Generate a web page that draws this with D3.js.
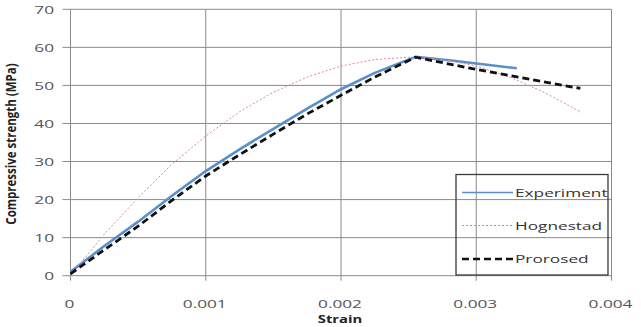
<!DOCTYPE html>
<html>
<head>
<meta charset="utf-8">
<script src="https://cdn.jsdelivr.net/npm/d3@7"></script>
<style>
  body { margin: 0; background: #fff; }
  svg { display: block; }
  text { font-family: "Open Sans", "Liberation Sans", sans-serif; }
</style>
</head>
<body>
<svg id="chart" width="641" height="327"></svg>
<script>
// ---- data ----
const xTicks = [0, 0.001, 0.002, 0.003, 0.004];
const xTickLabels = ["0", "0.001", "0.002", "0.003", "0.004"];
const yTicks = [0, 10, 20, 30, 40, 50, 60, 70];
const seriesNames = ["Experiment", "Hognestad", "Prorosed"];

const experimentStrain = [0, 0.00025, 0.0005, 0.00075, 0.001, 0.00125, 0.0015, 0.00175, 0.002, 0.00225, 0.00255, 0.0028, 0.0033];
const experimentStress = [1.0, 7.8, 14.2, 21.0, 27.5, 33.2, 38.6, 43.9, 49.0, 53.3, 57.5, 56.6, 54.5];

const hognestadStrain = [0, 0.00025, 0.0005, 0.00075, 0.001, 0.00125, 0.0015, 0.00175, 0.002, 0.00225, 0.0025, 0.00275, 0.003, 0.00325, 0.0035, 0.00378];
const hognestadStress = [0, 10.9, 20.5, 29.3, 36.7, 43.1, 48.2, 52.2, 55.1, 56.8, 57.4, 56.8, 55.1, 52.2, 48.2, 42.9];

const proposedStrain = [0, 0.00025, 0.0005, 0.00075, 0.001, 0.00125, 0.0015, 0.00175, 0.002, 0.00225, 0.00255, 0.003, 0.00377];
const proposedStress = [0.5, 6.8, 13.0, 19.8, 26.2, 31.8, 37.2, 42.5, 47.4, 52.2, 57.4, 54.2, 49.2];

// ---- layout ----
const svg = d3.select("#chart");
const x = d3.scaleLinear().domain([0, 0.004]).range([70.5, 611.5]);
const y = d3.scaleLinear().domain([0, 70]).range([275.7, 9.3]);
const SX = 1.5; // horizontal stretch of the reference text
const gridColor = "#8a8a8a";

// gridlines
const g = svg.append("g");
g.selectAll("line.h").data(yTicks).join("line")
  .attr("x1", x(0) - 8).attr("x2", x(0.004))
  .attr("y1", d => y(d)).attr("y2", d => y(d))
  .attr("stroke", gridColor).attr("stroke-width", 1);
g.selectAll("line.v").data(xTicks).join("line")
  .attr("x1", d => x(d)).attr("x2", d => x(d))
  .attr("y1", y(70)).attr("y2", y(0) + 5)
  .attr("stroke", gridColor).attr("stroke-width", 1);

// y tick labels
svg.append("g").selectAll("text").data(yTicks).join("text")
  .attr("transform", d => `translate(54,${y(d) + 4.5}) scale(${SX},1)`)
  .attr("text-anchor", "end")
  .attr("font-size", 11.5)
  .attr("fill", "#555")
  .text(d => d);

// x tick labels
svg.append("g").selectAll("text").data(xTicks).join("text")
  .attr("transform", d => `translate(${x(d) - 1},307.5) scale(${SX},1)`)
  .attr("text-anchor", "middle")
  .attr("font-size", 11.5)
  .attr("fill", "#555")
  .text((d, i) => xTickLabels[i]);

// axis titles
svg.append("text")
  .attr("transform", `translate(340,323.3) scale(1.35,1)`)
  .attr("text-anchor", "middle")
  .attr("font-size", 11).attr("font-weight", "bold").attr("fill", "#222")
  .text("Strain");
svg.append("text")
  .attr("transform", `translate(16,144) scale(1.3,1) rotate(-90)`)
  .attr("text-anchor", "middle")
  .attr("font-size", 11.5).attr("font-weight", "bold").attr("fill", "#222")
  .text("Compressive strength (MPa)");

// lines
const line = d3.line().x(d => x(d[0])).y(d => y(d[1]));
const styles = [
  { color: "#5a8fcb", width: 2.6, dash: null },
  { color: "#dd8a8e", width: 1.0, dash: "2,2" },
  { color: "#111", width: 2.8, dash: "7,4" }
];
const seriesData = [
  d3.zip(experimentStrain, experimentStress),
  d3.zip(hognestadStrain, hognestadStress),
  d3.zip(proposedStrain, proposedStress)
];
[0, 1, 2].forEach(i => {
  svg.append("path")
    .datum(seriesData[i])
    .attr("d", line)
    .attr("fill", "none")
    .attr("stroke", styles[i].color)
    .attr("stroke-width", styles[i].width)
    .attr("stroke-dasharray", styles[i].dash)
    .attr("stroke-linejoin", "round");
});

// legend
const leg = svg.append("g");
leg.append("rect")
  .attr("x", 456).attr("y", 174.5).attr("width", 152).attr("height", 100.5)
  .attr("fill", "none").attr("stroke", "#3a3a3a").attr("stroke-width", 1.3);
const legY = [192.5, 225.5, 259];
seriesNames.forEach((name, i) => {
  leg.append("line")
    .attr("x1", 462).attr("x2", 513)
    .attr("y1", legY[i]).attr("y2", legY[i])
    .attr("stroke", styles[i].color)
    .attr("stroke-width", i === 1 ? 1.0 : (i === 0 ? 1.6 : 2.4))
    .attr("stroke-dasharray", styles[i].dash);
  leg.append("text")
    .attr("transform", `translate(515,${legY[i] + 4.2}) scale(${SX},1)`)
    .attr("font-size", 11.5)
    .attr("fill", "#333")
    .text(name);
});
</script>
</body>
</html>
